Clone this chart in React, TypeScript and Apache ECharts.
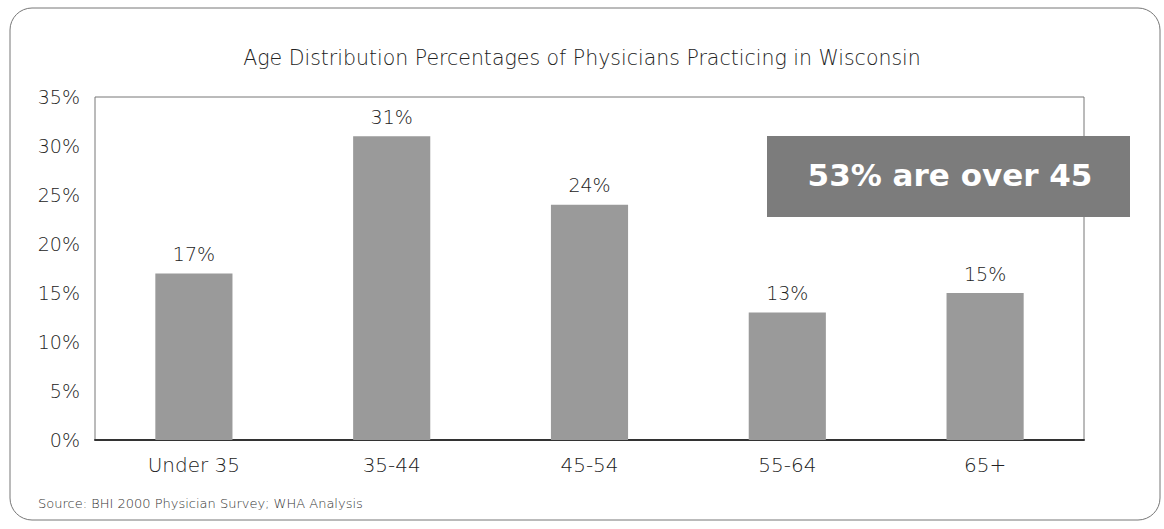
import React, { useEffect, useRef } from "react";
import * as echarts from "echarts";

const categories = ["Under 35", "35-44", "45-54", "55-64", "65+"];
const values = [17, 31, 24, 13, 15];
const yTicks = { min: 0, max: 35, interval: 5 };
const titleText = "Age Distribution Percentages of Physicians Practicing in Wisconsin";
const calloutText = "53% are over 45";
const sourceText = "Source: BHI 2000 Physician Survey; WHA Analysis";

const FONT = "'DejaVu Sans', sans-serif";
const W = 200;

export default function App() {
  const ref = useRef<HTMLDivElement>(null);
  useEffect(() => {
    document.body.style.margin = "0";
    const chart = echarts.init(ref.current!, null, { renderer: "svg" });
    chart.setOption({
      animation: false,
      backgroundColor: "#ffffff",
      title: {
        text: titleText,
        left: "center",
        top: 42,
        textStyle: { fontFamily: FONT, fontWeight: W, fontSize: 20.5, color: "#222" },
      },
      grid: {
        left: 95,
        right: 80,
        top: 97,
        bottom: 89,
        show: true,
        borderColor: "#777",
        borderWidth: 1,
        backgroundColor: "transparent",
      },
      xAxis: {
        type: "category",
        data: categories,
        axisTick: { show: false },
        axisLine: { show: true, lineStyle: { color: "#333", width: 2 } },
        axisLabel: { fontFamily: FONT, fontWeight: W, fontSize: 20, color: "#222", margin: 15 },
      },
      yAxis: {
        type: "value",
        min: yTicks.min,
        max: yTicks.max,
        interval: yTicks.interval,
        axisLine: { show: false },
        axisTick: { show: false },
        splitLine: { show: false },
        axisLabel: {
          formatter: "{value}%",
          fontFamily: FONT,
          fontWeight: W,
          fontSize: 19,
          color: "#222",
          margin: 15,
        },
      },
      series: [
        {
          type: "bar",
          data: values,
          barWidth: "39%",
          itemStyle: { color: "#9a9a9a" },
          label: {
            show: true,
            position: "top",
            distance: 10,
            formatter: "{c}%",
            fontFamily: FONT,
            fontWeight: W,
            fontSize: 19,
            color: "#222",
          },
        },
      ],
      graphic: [
        {
          type: "rect",
          shape: { x: 10, y: 8, width: 1150, height: 512, r: 22 },
          style: { fill: "none", stroke: "#777", lineWidth: 1 },
          silent: true,
        },
        {
          type: "rect",
          shape: { x: 767, y: 136, width: 363, height: 81 },
          style: { fill: "#7c7c7c" },
          z: 10,
        },
        {
          type: "text",
          x: 950,
          y: 175,
          style: {
            text: calloutText,
            fill: "#ffffff",
            fontFamily: FONT,
            fontWeight: "bold",
            fontSize: 31,
            align: "center",
            verticalAlign: "middle",
          },
          z: 11,
        },
        {
          type: "text",
          x: 38,
          y: 503,
          style: {
            text: sourceText,
            fill: "#333",
            fontFamily: FONT,
            fontWeight: W,
            fontSize: 13,
            verticalAlign: "middle",
          },
        },
      ],
    });
    return () => chart.dispose();
  }, []);
  return <div ref={ref} style={{ width: 1164, height: 529 }} />;
}
